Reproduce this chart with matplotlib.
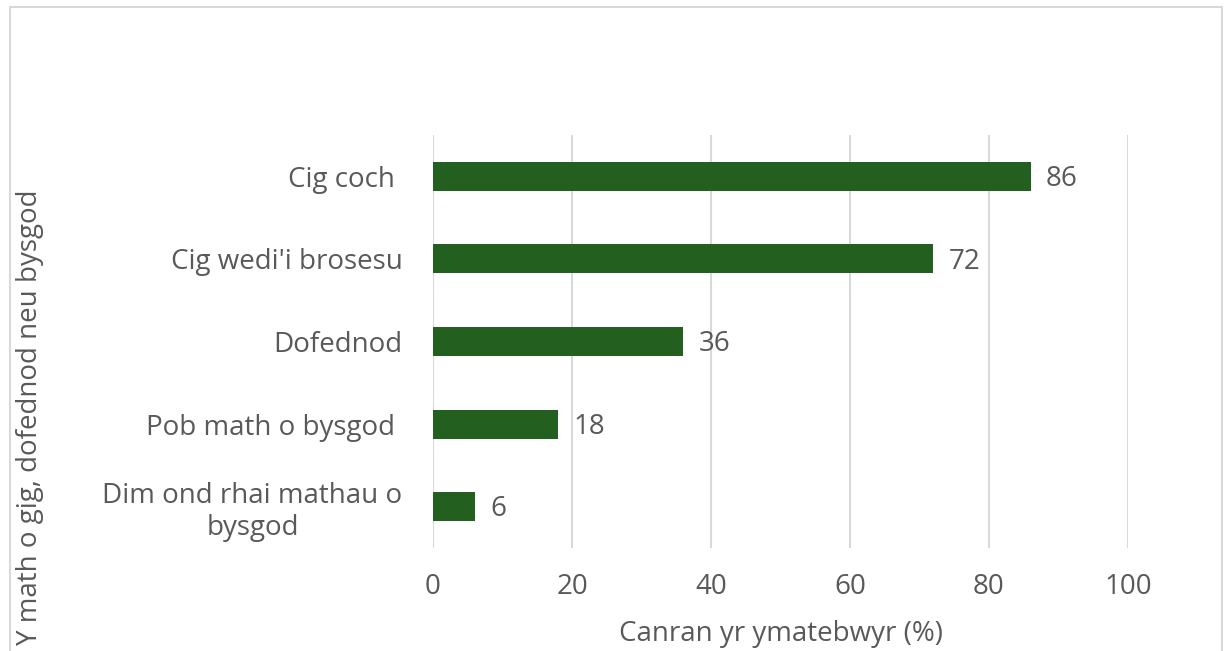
import matplotlib.pyplot as plt
from matplotlib.patches import Rectangle

categories = ['Cig coch ', "Cig wedi'i brosesu", 'Dofednod', 'Pob math o bysgod ',
              'Dim ond rhai mathau o\nbysgod']
values = [86, 72, 36, 18, 6]
xticks = [0, 20, 40, 60, 80, 100]

plt.rcParams['font.family'] = ['Open Sans', 'DejaVu Sans']
grey = '#595959'
green = '#235f1e'
fs = 20

W, H = 1225, 651
fig = plt.figure(figsize=(W / 100, H / 100), dpi=100)
ax = fig.add_axes([433 / W, 1 - 548 / H, (1128 - 433) / W, (548 - 135) / H])

ypos = list(range(len(categories)))
ax.barh(ypos, values, height=0.35, color=green, zorder=3)
ax.set_ylim(len(categories) - 0.5, -0.5)
ax.set_xlim(0, 100)
ax.set_xticks(xticks)
ax.set_yticks(ypos)
ax.set_yticklabels(categories, multialignment='center')
ax.grid(axis='x', color='#d9d9d9', linewidth=1.5, zorder=0)
for s in ax.spines.values():
    s.set_visible(False)
ax.tick_params(axis='both', length=0, labelsize=fs, colors=grey)
ax.tick_params(axis='x', pad=18)
ax.tick_params(axis='y', pad=22)

for y, v in zip(ypos, values):
    ax.annotate(str(v), (v, y), xytext=(11, -2), textcoords='offset points',
                va='center', ha='left', fontsize=fs, color=grey)

fig.text(781 / W, 1 - 634 / H, 'Canran yr ymatebwyr (%)', ha='center', va='center',
         fontsize=fs, color=grey)
fig.text(30 / W, 1 - 417 / H, 'Y math o gig, dofednod neu bysgod', ha='center',
         va='center', rotation=90, fontsize=fs, color=grey)

# outer chart border (cropped at bottom/right)
fig.patches.append(Rectangle((10 / W, -0.1), (1222 - 10) / W, 1 - 7 / H + 0.1,
                             transform=fig.transFigure, fill=False,
                             edgecolor='#d9d9d9', linewidth=1.5))

fig.savefig('out.png', dpi=100)
